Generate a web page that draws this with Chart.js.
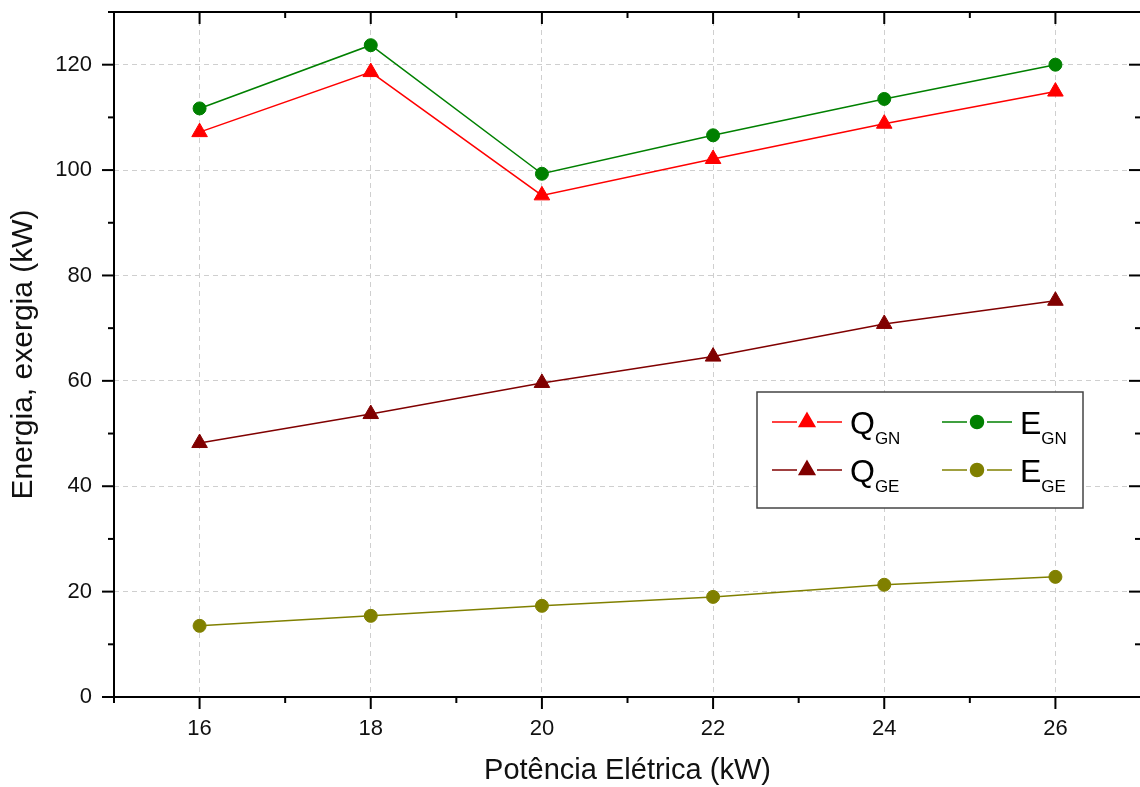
<!DOCTYPE html>
<html><head><meta charset="utf-8">
<script src="https://cdn.jsdelivr.net/npm/chart.js@4.4.0/dist/chart.umd.min.js"></script>
<style>html,body{margin:0;padding:0;overflow:hidden;background:#fff}#wrap{position:relative;width:1142px;height:787px}</style>
</head><body><div id="wrap"><canvas id="c"></canvas></div>
<script>
const power = [16, 18, 20, 22, 24, 26];
const qGN = [107.2, 118.6, 95.2, 102.1, 108.8, 114.9];
const eGN = [111.7, 123.7, 99.3, 106.6, 113.5, 120.0];
const qGE = [48.2, 53.7, 59.6, 64.6, 70.8, 75.2];
const eGE = [13.5, 15.4, 17.3, 19.0, 21.3, 22.8];
const seriesMain = ['Q', 'E', 'Q', 'E'];
const seriesSub = ['GN', 'GN', 'GE', 'GE'];
const seriesColors = ['#ff0000', '#008000', '#800000', '#808000'];
const seriesStyles = ['triangle', 'circle', 'triangle', 'circle'];
const xTickLabels = [16, 18, 20, 22, 24, 26];
const yTickLabels = [0, 20, 40, 60, 80, 100, 120];
const xTitle = 'Potência Elétrica (kW)';
const yTitle = 'Energia, exergia (kW)';

const FONT = "'Liberation Sans', Arial, sans-serif";
const seriesValues = [qGN, eGN, qGE, eGE];

const datasets = seriesValues.map((vals, i) => ({
  label: seriesMain[i] + seriesSub[i],
  data: power.map((p, k) => ({ x: p, y: vals[k] })),
  borderColor: seriesColors[i],
  backgroundColor: seriesColors[i],
  pointBackgroundColor: seriesColors[i],
  pointBorderColor: seriesColors[i],
  pointBorderWidth: 1,
  pointStyle: seriesStyles[i],
  pointRadius: seriesStyles[i] === 'triangle' ? 9 : 6.5,
  borderWidth: 1.5,
  tension: 0,
  fill: false
}));

function seg(ctx, x1, y1, x2, y2) { ctx.beginPath(); ctx.moveTo(x1, y1); ctx.lineTo(x2, y2); ctx.stroke(); }

const framePlugin = {
  id: 'frame',
  afterDatasetsDraw(chart) {
    const { ctx, chartArea: a } = chart;
    const L = a.left + 643, T = a.top + 380, W = 326, H = 116;
    ctx.save();
    ctx.fillStyle = '#fff';
    ctx.fillRect(L, T, W, H);
    ctx.strokeStyle = '#444';
    ctx.lineWidth = 1.5;
    ctx.strokeRect(L, T, W, H);
    const rows = [30, 78], cols = [15, 185];
    chart.data.datasets.forEach((ds, i) => {
      const r = Math.floor(i / 2), c = i % 2;
      const cy = T + rows[r], x0 = L + cols[c];
      ctx.strokeStyle = ds.borderColor;
      ctx.lineWidth = 1.5;
      seg(ctx, x0, cy, x0 + 25, cy);
      seg(ctx, x0 + 45, cy, x0 + 70, cy);
      ctx.fillStyle = ds.backgroundColor;
      Chart.helpers.drawPoint(ctx, { pointStyle: ds.pointStyle, radius: ds.pointRadius, borderWidth: 1 }, x0 + 35, cy);
      ctx.fillStyle = '#000';
      ctx.textBaseline = 'alphabetic';
      ctx.textAlign = 'left';
      ctx.font = '32px ' + FONT;
      const tx = x0 + 78;
      ctx.fillText(seriesMain[i], tx, cy + 12);
      const w = ctx.measureText(seriesMain[i]).width;
      ctx.font = '17px ' + FONT;
      ctx.fillText(seriesSub[i], tx + w, cy + 22);
    });
    ctx.restore();
  },
  afterDraw(chart) {
    const { ctx, chartArea: a, scales: { x, y } } = chart;
    ctx.save();
    ctx.strokeStyle = '#000';
    ctx.lineWidth = 2;
    ctx.strokeRect(a.left, a.top, a.right - a.left, a.bottom - a.top);
    x.ticks.forEach(t => {
      const p = x.getPixelForValue(t.value);
      const len = xTickLabels.includes(t.value) ? 12 : 6;
      seg(ctx, p, a.bottom, p, a.bottom + len);
      seg(ctx, p, a.top, p, a.top + len);
    });
    y.ticks.forEach(t => {
      const p = y.getPixelForValue(t.value);
      const len = yTickLabels.includes(t.value) ? 12 : 6;
      seg(ctx, a.left - len, p, a.left, p);
      seg(ctx, a.right - len, p, a.right, p);
    });
    ctx.restore();
  }
};

new Chart(document.getElementById('c'), {
  type: 'line',
  data: { datasets },
  plugins: [framePlugin],
  options: {
    responsive: true,
    maintainAspectRatio: false,
    animation: false,
    layout: { autoPadding: false, padding: { top: 12, right: 1, left: 0, bottom: 0 } },
    plugins: { legend: { display: false }, tooltip: { enabled: false } },
    scales: {
      x: {
        type: 'linear', min: 15, max: 27,
        afterFit: s => { s.height = 90; s.paddingLeft = 0; s.paddingRight = 0; },
        border: { display: false, dash: [5, 4] },
        grid: {
          drawTicks: false,
          color: c => (c.tick && xTickLabels.includes(c.tick.value)) ? '#cfcfcf' : 'rgba(0,0,0,0)',
          lineWidth: 1
        },
        ticks: {
          stepSize: 1, autoSkip: false, maxRotation: 0, padding: 21,
          color: '#111', font: { family: FONT, size: 22, lineHeight: 1.0 },
          callback: v => xTickLabels.includes(v) ? String(v) : ''
        },
        title: { display: true, text: xTitle, color: '#111', font: { family: FONT, size: 29, lineHeight: 1.1 }, padding: { top: 0, bottom: 0 } }
      },
      y: {
        type: 'linear', min: 0, max: 130,
        afterFit: s => { s.width = 114; s.paddingTop = 0; s.paddingBottom = 0; },
        border: { display: false, dash: [5, 4] },
        grid: {
          drawTicks: false,
          color: c => (c.tick && yTickLabels.includes(c.tick.value) && c.tick.value !== 0) ? '#cfcfcf' : 'rgba(0,0,0,0)',
          lineWidth: 1
        },
        ticks: {
          stepSize: 10, autoSkip: false, padding: 22,
          color: '#111', font: { family: FONT, size: 22, lineHeight: 1.0 },
          callback: v => yTickLabels.includes(v) ? String(v) : ''
        },
        title: { display: true, text: yTitle, color: '#111', font: { family: FONT, size: 30, lineHeight: 1.1 }, padding: { top: 7, bottom: 0 } }
      }
    }
  }
});
</script></body></html>
